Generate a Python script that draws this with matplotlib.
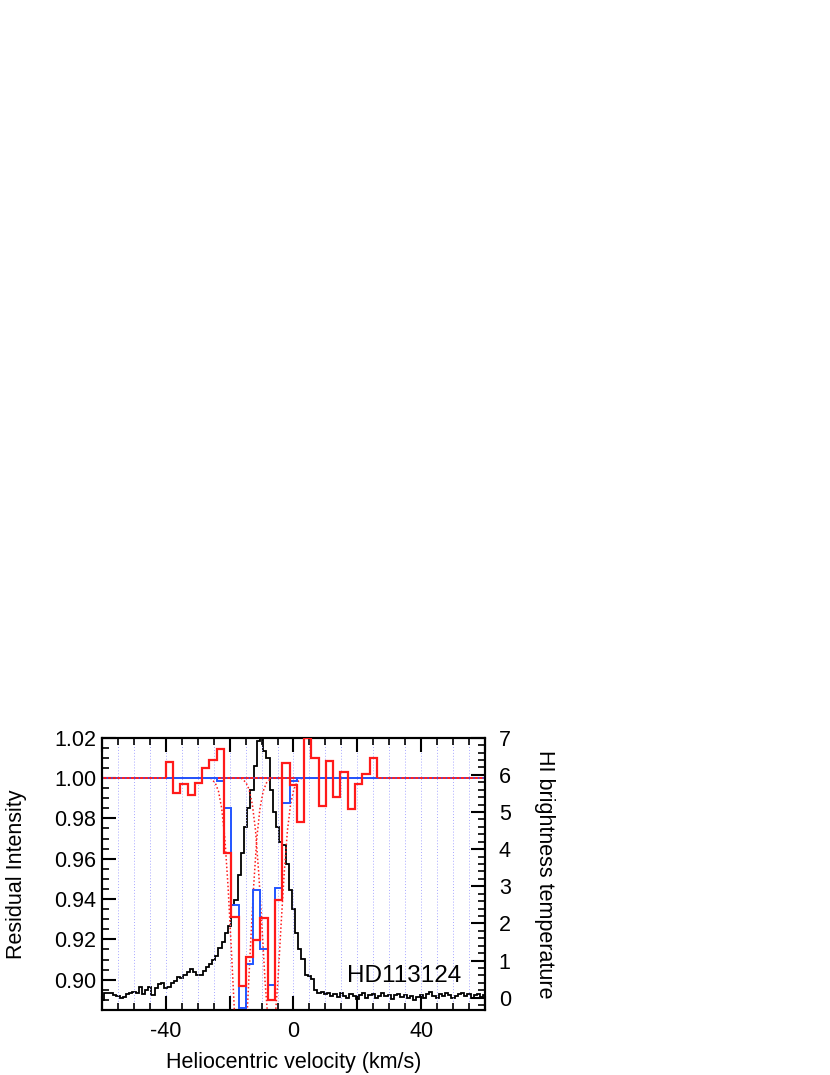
import numpy as np
import matplotlib
matplotlib.use("Agg")
from matplotlib import pyplot as plt
from matplotlib.ticker import MultipleLocator, FormatStrFormatter

plt.rcParams['font.family'] = ['Liberation Sans', 'DejaVu Sans']
plt.rcParams['axes.unicode_minus'] = False

# HI 21cm brightness temperature (right axis), 1 km/s channels from -60 to 60
hi_v0 = -60.0
hi_dv = 1.0
hi_temp = [
    -0.05, 0.12, 0.14, 0.12, 0.08, 0.04, -0.02, 0.03, 0.10, 0.12,
    0.16, 0.13, 0.30, 0.10, 0.20, 0.30, 0.08, 0.25, 0.38, 0.40,
    0.25, 0.30, 0.40, 0.45, 0.57, 0.52, 0.60, 0.70, 0.76, 0.68,
    0.60,
    0.60, 0.72, 0.83, 0.90, 1.01, 1.12, 1.33, 1.51, 1.73, 1.92,
    2.50, 2.63, 3.30, 3.90, 4.60, 5.10, 5.60, 6.25, 6.90, 7.05,
    6.65, 6.45, 5.60, 5.00, 4.60, 4.20, 4.10, 3.60, 2.90, 2.40,
    1.75, 1.30, 1.05, 0.62, 0.58, 0.50, 0.22, 0.12,
    0.16, 0.10, 0.14, 0.04, 0.10, 0.02, 0.12, 0.05, 0.00, 0.10,
    0.04, -0.04, 0.06, 0.12, 0.00, 0.08, 0.10, -0.02, 0.05, 0.13,
    0.04, 0.08, -0.03, 0.06, 0.10, 0.02, 0.08, 0.00, 0.05, -0.05,
    0.02, 0.08, -0.02, 0.10, 0.16, 0.05, 0.00, 0.10, 0.04, 0.12,
    0.08, -0.02, 0.05, 0.10, 0.12, 0.04, 0.10, 0.00, 0.06, 0.10,
    0.02, 0.07,
]

# optical spectrum (red) and binned model (blue), 2.28 km/s bins from -40
opt_v0 = -40.0
opt_dv = 2.28
obs_flux = [
    1.0081, 0.9924, 0.9969, 0.9916, 0.9974, 1.0050, 1.0090, 1.0143,
    0.9627, 0.9310, 0.8970, 0.9114, 0.9197, 0.9305, 0.8900, 0.9395,
    1.0076, 0.9966, 0.9784, 1.0200, 1.0098, 0.9863, 1.0086, 0.9908,
    1.0028, 0.9847, 0.9969, 1.0022, 1.0101,
]
model_flux = [
    1.0, 1.0, 1.0, 1.0, 1.0, 1.0, 1.0, 0.9985,
    0.9850, 0.9370, 0.8858, 0.9080, 0.9445, 0.9150, 0.8974, 0.9453,
    0.9875, 0.9987, 1.0, 1.0, 1.0, 1.0, 1.0, 1.0,
    1.0, 1.0, 1.0, 1.0, 1.0,
]
continuum = 1.0

# individual absorption components (red dotted)
comp1_v = [-26, -24.5, -23.5, -22.5, -21.5, -20.5, -19.5, -18.5, -17.5, -16.5,
           -15.5, -14.5, -13.5, -12.5, -11.5, -10.5, -9.5, -8.5, -7]
comp1_i = [1.0, 0.9975, 0.9934, 0.985, 0.970, 0.946, 0.916, 0.884, 0.859, 0.850,
           0.859, 0.884, 0.916, 0.946, 0.970, 0.985, 0.9934, 0.9975, 1.0]
comp2_v = [-16.4, -14.9, -13.9, -12.9, -11.9, -10.9, -9.9, -8.9, -7.9, -6.9,
           -5.9, -4.9, -3.9, -2.9, -1.9, -0.9, 0.1, 1.1, 2.6]
comp2_i = [1.0, 0.9978, 0.9943, 0.987, 0.974, 0.953, 0.927, 0.899, 0.878, 0.870,
           0.878, 0.899, 0.927, 0.953, 0.974, 0.987, 0.9943, 0.9978, 1.0]

star = 'HD113124'

red = '#ff1a1a'
blue = '#2255ff'

fig = plt.figure(figsize=(8.3, 10.75), dpi=100)
ax = fig.add_axes([0.1229, 0.0605, 0.4614, 0.2533])
ax2 = ax.twinx()
ax.set_zorder(ax2.get_zorder() + 1)
ax.patch.set_visible(False)

# HI emission
hi_edges = hi_v0 - hi_dv / 2 + hi_dv * np.arange(len(hi_temp) + 1)
ax2.stairs(hi_temp, hi_edges, color='black', lw=1.3)
ax2.set_ylim(-0.33, 7.0)

# grid
for v in np.arange(-55, 60, 5):
    ax.axvline(v, color='#a8a8ff', lw=0.7, ls=(0, (1, 2)), zorder=0)

ax.axhline(continuum, color=red, lw=1.4, zorder=2)
ax.axhline(continuum, color=blue, lw=1.1, ls=(0, (1, 2)), zorder=2.1)

opt_edges = opt_v0 + opt_dv * np.arange(len(obs_flux) + 1)
ax.plot(comp1_v, comp1_i, color=red, lw=1.1, ls=(0, (1, 1.5)), zorder=3)
ax.plot(comp2_v, comp2_i, color=red, lw=1.1, ls=(0, (1, 1.5)), zorder=3)
ax.stairs(model_flux, opt_edges, baseline=continuum, color=blue, lw=1.4, zorder=4)
ax.stairs(obs_flux, opt_edges, baseline=continuum, color=red, lw=1.6, zorder=5)

ax.set_xlim(-60, 60)
ax.set_ylim(0.885, 1.02)

ax.text(0.79, 0.104, star, transform=ax.transAxes, ha='center', va='baseline',
        fontsize=17.5)

# ticks
ax.set_xticks([-60, -40, -20, 0, 20, 40, 60], ['', '-40', '', '0', '', '40', ''])
ax.xaxis.set_minor_locator(MultipleLocator(5))
ax.yaxis.set_major_locator(MultipleLocator(0.02))
ax.yaxis.set_minor_locator(MultipleLocator(0.005))
ax.yaxis.set_major_formatter(FormatStrFormatter('%.2f'))
ax2.yaxis.set_major_locator(MultipleLocator(1))
ax2.yaxis.set_minor_locator(MultipleLocator(0.2))

ax.tick_params(axis='x', which='both', direction='in', top=True, bottom=True)
ax.tick_params(axis='y', which='both', direction='in', left=True, right=False)
ax.tick_params(which='major', length=10, width=1.5, labelsize=15.5)
ax.tick_params(which='minor', length=5, width=1.2)
ax.tick_params(axis='x', which='major', pad=8)
ax.tick_params(axis='y', which='major', pad=4)
ax2.tick_params(axis='y', which='both', direction='in', right=True, left=False)
ax2.tick_params(which='major', length=10, width=1.5, labelsize=15.5, pad=10)
ax2.tick_params(which='minor', length=5, width=1.2)

for a in (ax, ax2):
    for s in a.spines.values():
        s.set_linewidth(1.5)

ax.set_xlabel('Heliocentric velocity (km/s)', fontsize=15.5, labelpad=7)
ax.set_ylabel('Residual Intensity', fontsize=15.5, labelpad=20)
ax2.set_ylabel('HI brightness temperature', fontsize=15.5, rotation=270,
               labelpad=32)

fig.savefig('out.png', dpi=100)
